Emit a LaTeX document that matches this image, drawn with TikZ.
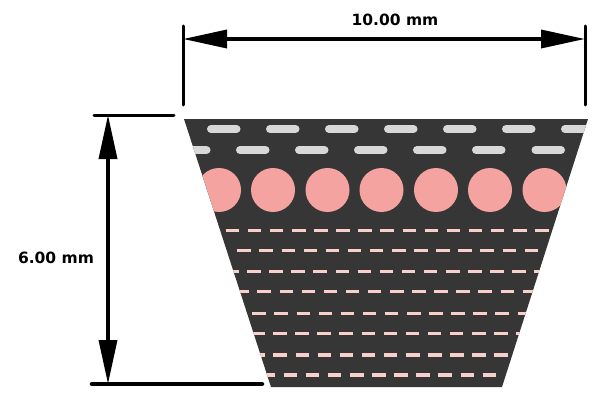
\documentclass[tikz,border=0pt]{standalone}
\usepackage{fontspec}
\setsansfont{DejaVu Sans}
\usetikzlibrary{arrows.meta}
\definecolor{beltdark}{HTML}{363636}
\definecolor{cordgray}{HTML}{D8D8D8}
\definecolor{corepink}{HTML}{F4A3A0}
\definecolor{threadpink}{HTML}{F8CFCB}
\tikzset{
  dimline/.style={line width=3.5pt,{Triangle[length=44pt,width=18pt]}-{Triangle[length=44pt,width=18pt]}},
  extline/.style={line width=3pt,line cap=round},
  dimlabel/.style={font=\sffamily\bfseries\fontsize{15.5}{18}\selectfont,inner sep=0pt},
  cord/.style={cordgray,line width=8pt,line cap=round},
  thread/.style={threadpink,line width=3.4pt}
}
\begin{document}
\begin{tikzpicture}[x=1pt,y=-1pt]
\useasboundingbox (0,0) rectangle (600,404);
% belt section
\fill [beltdark] (184,119) -- (588,119) -- (502,387) -- (271,387) -- cycle;
\begin{scope}
\clip (184,119) -- (588,119) -- (502,387) -- (271,387) -- cycle;
% upper cords
\foreach \xa in {211,270,329,388,447,506,565}
  \draw [cord] (\xa,129) -- ++(25.5,0);
\foreach \xa in {181,240,299,358,417,476,535.5}
  \draw [cord] (\xa,150) -- ++(25.5,0);
% core circles
\foreach \xa in {219,273,327.5,381.5,436,490,544.5}
  \fill [corepink] (\xa,190) circle (22);
% thin threads: row, first start, number of periods
\foreach \ya/\xa/\na in {230.3/225.7/14,250.3/237.3/13,271.3/225/14,291.7/235.3/13,313.7/252.3/12,333.7/251/12,355/251.3/11,375/261.6/10}
  \foreach \ia in {0,...,\na}
    \draw [thread] ({\xa+22.1*\ia},\ya) -- ++(13.5,0);
\end{scope}
% dimension width
\coordinate (wl) at (183,39);
\coordinate (wr) at (585,39);
\coordinate (wlt) at (183,26);
\coordinate (wlb) at (183,105);
\coordinate (wrt) at (585,26);
\coordinate (wrb) at (585,105);
\draw [extline] (wlt) -- (wlb);
\draw [extline] (wrt) -- (wrb);
\draw [dimline] (wl) -- (wr);
\node [dimlabel] (wlabel) at (395,20) {10.00 mm};
% dimension height
\coordinate (ht) at (108,115);
\coordinate (hb) at (108,384);
\coordinate (htl) at (94,115);
\coordinate (htr) at (174,115);
\coordinate (hbl) at (92,384);
\coordinate (hbr) at (262,384);
\draw [extline] (htl) -- (htr);
\draw [extline,line width=4.5pt] (hbl) -- (hbr);
\draw [dimline] (ht) -- (hb);
\node [dimlabel] (hlabel) at (56,258) {6.00 mm};
\end{tikzpicture}
\end{document}
